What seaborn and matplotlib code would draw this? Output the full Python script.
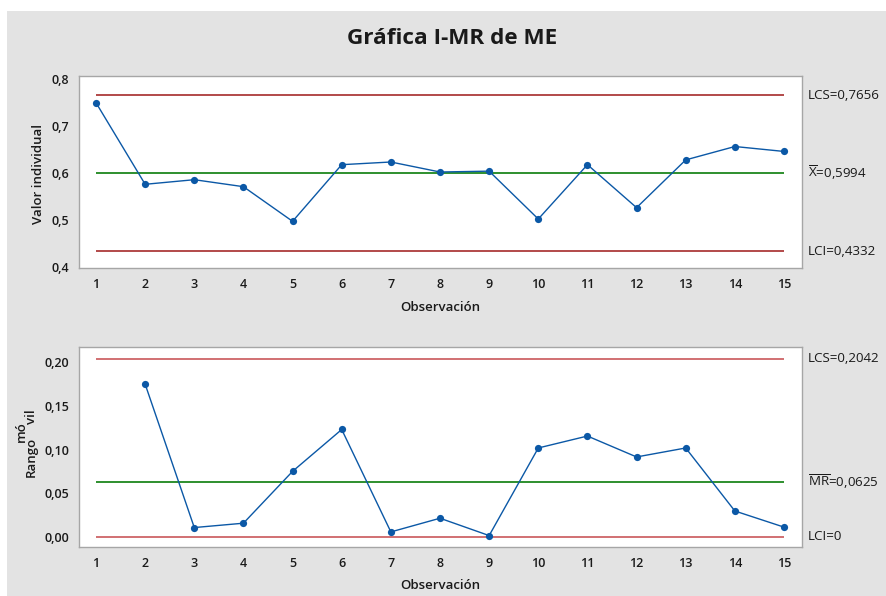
import matplotlib
matplotlib.use("Agg")
import matplotlib.pyplot as plt
import seaborn as sns
import pandas as pd
from matplotlib.patches import Rectangle
from matplotlib.ticker import FuncFormatter, MultipleLocator
from matplotlib.transforms import blended_transform_factory

# Individual observations
observaciones = list(range(1, 16))
valor_individual = [0.7498, 0.5760, 0.5858, 0.5709, 0.4971, 0.6178, 0.6235, 0.6022,
                    0.6040, 0.5020, 0.6178, 0.5262, 0.6280, 0.6565, 0.6460]

# Moving ranges (start at observation 2)
observaciones_mr = list(range(2, 16))
rango_movil = [0.1750, 0.0105, 0.0155, 0.0750, 0.1230, 0.0055, 0.0212, 0.0013,
               0.1018, 0.1155, 0.0915, 0.1018, 0.0295, 0.0110]

# Control limits
lcs_i, media_i, lci_i = 0.7656, 0.5994, 0.4332
lcs_mr, media_mr, lci_mr = 0.2042, 0.0625, 0.0
etq_i = ["LCS=0,7656", r"$\overline{\mathrm{X}}$=0,5994", "LCI=0,4332"]
etq_mr = ["LCS=0,2042", r"$\overline{\mathrm{MR}}$=0,0625", "LCI=0"]

sns.set_style("white")
plt.rcParams['font.family'] = ['Open Sans', 'DejaVu Sans']
plt.rcParams['mathtext.fontset'] = 'custom'
plt.rcParams['mathtext.rm'] = 'Open Sans'
plt.rcParams['mathtext.it'] = 'Open Sans:italic'
plt.rcParams['mathtext.bf'] = 'Open Sans:bold'

AZUL = "#0b58a6"
ROJO = "#a52a2a"
ROJO2 = "#c9585a"
VERDE = "#0a7d0a"
GRIS_BORDE = "#a6a6a6"
TXT = "#1a1a1a"

W, H = 886, 596
fig = plt.figure(figsize=(W / 100, H / 100), dpi=100)
fig.patch.set_facecolor("white")
fig.patches.append(Rectangle((7 / W, 0), 1, 585 / H, transform=fig.transFigure,
                             facecolor="#e3e3e3", edgecolor="none", zorder=-10))

def px_axes(left, top, right, bottom):
    return [left / W, 1 - bottom / H, (right - left) / W, (bottom - top) / H]

ax1 = fig.add_axes(px_axes(79, 75.7, 801.7, 268.3))
ax2 = fig.add_axes(px_axes(79, 347.3, 801.7, 547))

df_i = pd.DataFrame({"obs": observaciones, "valor": valor_individual})
df_mr = pd.DataFrame({"obs": observaciones_mr, "valor": rango_movil})

def dibujar(ax, df, lcs, media, lci, etiquetas, col_lim, ylim, paso, fmt):
    ax.set_facecolor("white")
    ax.hlines([lcs, lci], observaciones[0], observaciones[-1], colors=col_lim, lw=1.2, zorder=2)
    ax.hlines(media, observaciones[0], observaciones[-1], colors=VERDE, lw=1.2, zorder=2)
    sns.lineplot(data=df, x="obs", y="valor", ax=ax, color=AZUL, lw=1.0,
                 marker="o", markersize=5.2, markeredgewidth=0, zorder=3)
    ax.set_xlim(0.654, 15.36)
    ax.set_ylim(*ylim)
    ax.set_xticks(observaciones)
    ax.yaxis.set_major_locator(MultipleLocator(paso))
    ax.yaxis.set_major_formatter(FuncFormatter(lambda v, p: fmt.format(v).replace(".", ",")))
    for s in ax.spines.values():
        s.set_color(GRIS_BORDE)
        s.set_linewidth(1.0)
    ax.tick_params(direction="out", length=4, width=0.9, color="#8f8f8f",
                   labelsize=9, labelcolor=TXT, pad=3)
    for lab in ax.get_xticklabels() + ax.get_yticklabels():
        lab.set_fontweight("semibold")
    ax.set_xlabel("Observación", fontsize=9.5, fontweight="semibold", color=TXT, labelpad=7)
    ax.set_ylabel("")
    tr = blended_transform_factory(ax.transAxes, ax.transData)
    for y, t in zip([lcs, media, lci], etiquetas):
        ax.text(1.0087, y, t, transform=tr, ha="left", va="center", fontsize=9.6, color=TXT)

dibujar(ax1, df_i, lcs_i, media_i, lci_i, etq_i, ROJO, (0.397, 0.8074), 0.1, "{:.1f}")
dibujar(ax2, df_mr, lcs_mr, media_mr, lci_mr, etq_mr, ROJO2, (-0.0118, 0.2173), 0.05, "{:.2f}")

# Titles and axis labels
fig.text(452.5 / W, 1 - 38 / H, "Gráfica I-MR de ME", ha="center", va="center",
         fontsize=16.2, fontweight="bold", color=TXT)
fig.text(38 / W, 1 - 174 / H, "Valor individual", ha="center", va="center", rotation=90,
         fontsize=9.5, fontweight="semibold", color=TXT)
fig.text(31 / W, 1 - 457 / H, "Rango", ha="center", va="center", rotation=90,
         fontsize=9.5, fontweight="semibold", color=TXT)
fig.text(21 / W, 1 - 432 / H, "mó", ha="center", va="center", rotation=90,
         fontsize=9.5, fontweight="semibold", color=TXT)
fig.text(31.5 / W, 1 - 417 / H, "vil", ha="center", va="center", rotation=90,
         fontsize=9.5, fontweight="semibold", color=TXT)

fig.savefig("out.png", dpi=100)
